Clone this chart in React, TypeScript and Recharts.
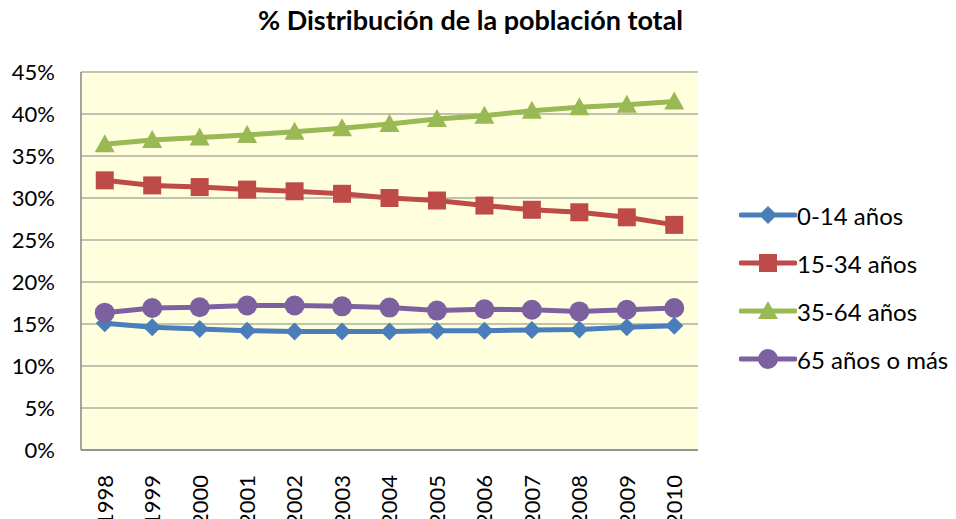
import React from 'react';
import {
  LineChart,
  Line,
  XAxis,
  YAxis,
  CartesianGrid,
} from 'recharts';

const years = ['1998', '1999', '2000', '2001', '2002', '2003', '2004', '2005', '2006', '2007', '2008', '2009', '2010'];
const age0to14 = [15.1, 14.6, 14.4, 14.2, 14.1, 14.1, 14.1, 14.2, 14.2, 14.3, 14.35, 14.6, 14.8];
const age15to34 = [32.1, 31.5, 31.3, 31.0, 30.8, 30.5, 30.0, 29.7, 29.1, 28.6, 28.3, 27.7, 26.8];
const age35to64 = [36.4, 36.9, 37.2, 37.5, 37.9, 38.3, 38.8, 39.4, 39.8, 40.4, 40.8, 41.1, 41.5];
const age65plus = [16.35, 16.9, 17.0, 17.2, 17.2, 17.1, 16.95, 16.6, 16.75, 16.7, 16.5, 16.7, 16.9];
const yTicks = [0, 5, 10, 15, 20, 25, 30, 35, 40, 45];

const FONT = 'Lato, "Open Sans", sans-serif';

const series = [
  { key: 'a', name: '0-14 años', color: '#4a7ebb', shape: 'diamond' },
  { key: 'b', name: '15-34 años', color: '#be4b48', shape: 'square' },
  { key: 'c', name: '35-64 años', color: '#98b954', shape: 'triangle' },
  { key: 'd', name: '65 años o más', color: '#7d60a0', shape: 'circle' },
];

const data = years.map((year, i) => ({
  year,
  a: age0to14[i],
  b: age15to34[i],
  c: age35to64[i],
  d: age65plus[i],
}));

function Marker({ cx, cy, shape, color }: { cx: number; cy: number; shape: string; color: string }) {
  if (shape === 'diamond') {
    return <polygon points={`${cx},${cy - 9} ${cx + 9},${cy} ${cx},${cy + 9} ${cx - 9},${cy}`} fill={color} />;
  }
  if (shape === 'square') {
    return <rect x={cx - 9} y={cy - 9} width={18} height={18} fill={color} />;
  }
  if (shape === 'triangle') {
    return <polygon points={`${cx},${cy - 10} ${cx + 10},${cy + 8} ${cx - 10},${cy + 8}`} fill={color} />;
  }
  return <circle cx={cx} cy={cy} r={10} fill={color} />;
}

const makeDot = (shape: string, color: string) => (props: any) => {
  if (props.cx == null || props.cy == null) return <g key={props.key} />;
  return <Marker key={props.key} cx={props.cx} cy={props.cy} shape={shape} color={color} />;
};

function YearTick({ x, y, payload }: any) {
  return (
    <text
      x={x}
      y={y + 17}
      transform={`rotate(-90, ${x}, ${y + 17})`}
      textAnchor="end"
      dy="0.36em"
      fontSize={22}
      fontFamily={FONT}
      fill="#000"
    >
      {payload.value}
    </text>
  );
}

function LegendBox() {
  return (
    <div
      style={{
        position: 'absolute',
        left: 739,
        top: 191,
        fontFamily: FONT,
        fontSize: 24,
        color: '#000',
        whiteSpace: 'nowrap',
      }}
    >
      {series.map((s) => (
        <div key={s.key} style={{ display: 'flex', alignItems: 'center', height: 48 }}>
          <svg width={58} height={24}>
            <line x1={2} y1={12} x2={56} y2={12} stroke={s.color} strokeWidth={5} strokeLinecap="round" />
            <Marker cx={29} cy={12} shape={s.shape} color={s.color} />
          </svg>
          <span>{s.name}</span>
        </div>
      ))}
    </div>
  );
}

export default function App() {
  return (
    <div style={{ position: 'absolute', left: 0, top: 0, width: 956, height: 519, background: '#fff', overflow: 'hidden' }}>
      <div
        style={{
          position: 'absolute',
          left: 258,
          top: 3,
          fontFamily: FONT,
          fontWeight: 'bold',
          fontSize: 27,
          whiteSpace: 'nowrap',
        }}
      >
        % Distribución de la población total
      </div>
      <LineChart width={956} height={519} data={data} margin={{ top: 72, right: 258, bottom: 0, left: 0 }}>
        <CartesianGrid vertical={false} fill="#ffffdd" stroke="#868686" strokeWidth={1.2} />
        <XAxis
          dataKey="year"
          height={69}
          tick={<YearTick />}
          tickLine={false}
          axisLine={{ stroke: '#868686', strokeWidth: 1.5 }}
          interval={0}
          padding={{ left: 23.75, right: 23.75 }}
        />
        <YAxis
          width={81}
          domain={[0, 45]}
          ticks={yTicks}
          interval={0}
          tickFormatter={(v) => `${v}%`}
          tickLine={false}
          axisLine={{ stroke: '#868686', strokeWidth: 1.5 }}
          tick={{ fontSize: 22, fontFamily: FONT, fill: '#000' }}
          tickMargin={20}
        />
        {series.map((s) => (
          <Line
            key={s.key}
            type="linear"
            dataKey={s.key}
            name={s.name}
            stroke={s.color}
            strokeWidth={5}
            dot={makeDot(s.shape, s.color)}
            activeDot={false}
            isAnimationActive={false}
          />
        ))}
      </LineChart>
      <LegendBox />
    </div>
  );
}
